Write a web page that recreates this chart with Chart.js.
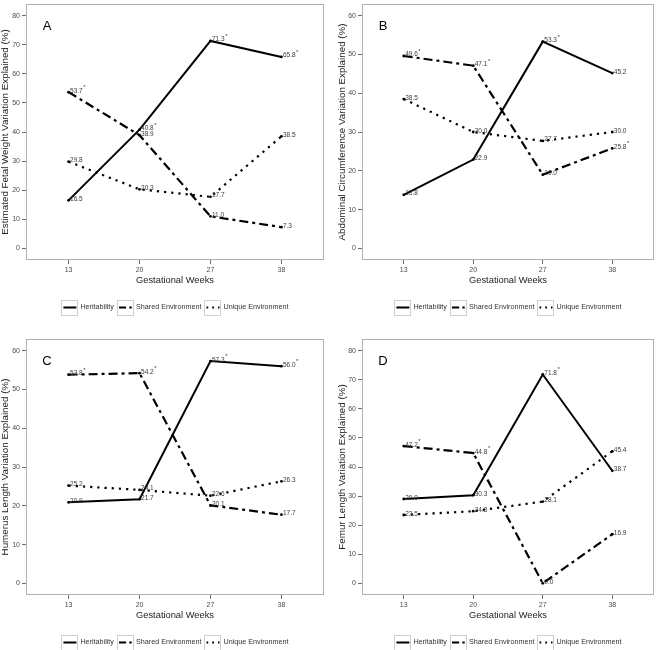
<!DOCTYPE html>
<html><head><meta charset="utf-8">
<script src="https://cdn.jsdelivr.net/npm/chart.js@4.4.0/dist/chart.umd.min.js"></script>
<style>
html,body{margin:0;padding:0;background:#fff;overflow:hidden;width:660px;height:650px;}
.p{position:absolute;width:330px;height:335px;}
canvas{display:block;}
</style></head><body>
<div class="p" style="left:0;top:0"><canvas id="cA" width="330" height="335"></canvas></div>
<div class="p" style="left:330px;top:0"><canvas id="cB" width="330" height="335"></canvas></div>
<div class="p" style="left:0;top:335px"><canvas id="cC" width="330" height="335"></canvas></div>
<div class="p" style="left:330px;top:335px"><canvas id="cD" width="330" height="335"></canvas></div>
<script>
// ---------- data ----------
const weeks = ['13', '20', '27', '38'];
const seriesNames = ['Heritability', 'Shared Environment', 'Unique Environment'];
const ticks80 = [0, 10, 20, 30, 40, 50, 60, 70, 80];
const ticks60 = [0, 10, 20, 30, 40, 50, 60];

// A: Estimated fetal weight
const efwHerit  = [16.5, 40.8, 71.3, 65.8];
const efwShared = [53.7, 38.9, 11.0, 7.3];
const efwUnique = [29.8, 20.3, 17.7, 38.5];
const efwHeritSig  = [false, true, true, true];
const efwSharedSig = [true, false, false, false];
const efwUniqueSig = [false, false, false, false];

// B: Abdominal circumference
const acHerit  = [13.8, 22.9, 53.3, 45.2];
const acShared = [49.6, 47.1, 19.0, 25.8];
const acUnique = [38.5, 30.0, 27.7, 30.0];
const acHeritSig  = [false, false, true, false];
const acSharedSig = [true, true, false, true];
const acUniqueSig = [false, false, false, false];

// C: Humerus length
const hlHerit  = [20.9, 21.7, 57.3, 56.0];
const hlShared = [53.8, 54.2, 20.1, 17.7];
const hlUnique = [25.2, 24.1, 22.6, 26.3];
const hlHeritSig  = [false, false, true, true];
const hlSharedSig = [true, true, false, false];
const hlUniqueSig = [false, false, false, false];

// D: Femur length
const flHerit  = [29.0, 30.3, 71.8, 38.7];
const flShared = [47.2, 44.8, 0.0, 16.9];
const flUnique = [23.5, 24.8, 28.1, 45.4];
const flHeritSig  = [false, false, true, false];
const flSharedSig = [true, true, false, false];
const flUniqueSig = [false, false, false, false];

// ---------- styles ----------
const FONT = "'Liberation Sans', Arial, sans-serif";
const lineStyles = [
  { dash: [], width: 2 },
  { dash: [9, 4, 3, 4], width: 2.2 },
  { dash: [2.2, 5], width: 2.2 }
];

const framePlugin = {
  id: 'frame',
  afterDraw(chart) {
    const { ctx, chartArea: a } = chart;
    ctx.save();
    ctx.strokeStyle = '#b0b0b0';
    ctx.lineWidth = 1;
    ctx.strokeRect(Math.round(a.left) + 0.5, Math.round(a.top) + 0.5,
      Math.round(a.right - a.left) - 1, Math.round(a.bottom - a.top) - 1);
    ctx.restore();
  }
};

const extrasPlugin = {
  id: 'extras',
  afterDatasetsDraw(chart) {
    const { ctx, chartArea: a } = chart;
    const cfg = chart.config.options.plugins.extras;
    ctx.save();
    // panel letter
    ctx.fillStyle = '#000';
    ctx.font = '13px ' + FONT;
    ctx.textAlign = 'center';
    ctx.textBaseline = 'middle';
    ctx.fillText(cfg.letter, a.left + 21, a.top + 22);
    // value labels
    chart.data.datasets.forEach((ds, di) => {
      const meta = chart.getDatasetMeta(di);
      meta.data.forEach((pt, i) => {
        const v = ds.data[i].y;
        const txt = v.toFixed(1);
        ctx.font = '6.5px ' + FONT;
        ctx.fillStyle = '#3a3a3a';
        ctx.textAlign = 'left';
        ctx.textBaseline = 'alphabetic';
        const tx = pt.x + 1.5;
        const ty = pt.y + 0.5;
        ctx.fillText(txt, tx, ty);
        if (ds.sig[i]) {
          const w = ctx.measureText(txt).width;
          ctx.font = '6px ' + FONT;
          ctx.fillText('*', tx + w + 0.5, ty - 3.5);
        }
      });
    });
    // legend
    ctx.font = '7.2px ' + FONT;
    ctx.textBaseline = 'middle';
    const boxW = 16, boxH = 15, gapText = 3, gapItem = 3;
    const widths = seriesNames.map(n => ctx.measureText(n).width);
    let total = 0;
    widths.forEach((w, i) => { total += boxW + gapText + w + (i < widths.length - 1 ? gapItem : 0); });
    let x = (a.left + a.right) / 2 - total / 2;
    const cy = 307;
    seriesNames.forEach((n, i) => {
      ctx.strokeStyle = '#cfcfcf';
      ctx.lineWidth = 1;
      ctx.setLineDash([]);
      ctx.strokeRect(Math.round(x) + 0.5, Math.round(cy - boxH / 2) + 0.5, boxW, boxH);
      ctx.strokeStyle = '#000';
      ctx.lineWidth = lineStyles[i].width;
      ctx.setLineDash(lineStyles[i].dash.map(d => d * 0.8));
      ctx.beginPath();
      ctx.moveTo(x + 2, cy + 0.5);
      ctx.lineTo(x + boxW - 1, cy + 0.5);
      ctx.stroke();
      ctx.setLineDash([]);
      ctx.fillStyle = '#333';
      ctx.textAlign = 'left';
      ctx.fillText(n, x + boxW + gapText, cy + 0.5);
      x += boxW + gapText + widths[i] + gapItem;
    });
    ctx.restore();
  }
};

function makeChart(id, letter, yTitle, yTicks, series, sigs, yLeft, titlePad) {
  const yMax = yTicks[yTicks.length - 1];
  const pad = yMax * 0.05;
  return new Chart(document.getElementById(id), {
    type: 'line',
    data: {
      datasets: series.map((vals, si) => ({
        label: seriesNames[si],
        data: weeks.map((w, i) => ({ x: i + 1, y: vals[i] })),
        sig: sigs[si],
        borderColor: '#000',
        backgroundColor: '#000',
        borderWidth: lineStyles[si].width,
        borderDash: lineStyles[si].dash,
        borderCapStyle: 'butt',
        tension: 0,
        pointRadius: 1.4,
        pointBorderWidth: 0,
        pointBackgroundColor: '#000',
        fill: false
      }))
    },
    options: {
      responsive: false,
      animation: false,
      devicePixelRatio: 1,
      layout: { padding: { top: 1, right: 6, left: 0, bottom: 0 } },
      plugins: {
        legend: { display: false },
        tooltip: { enabled: false },
        extras: { letter: letter }
      },
      scales: {
        x: {
          type: 'linear',
          min: 0.4, max: 4.6,
          afterBuildTicks: s => { s.ticks = weeks.map((w, i) => ({ value: i + 1 })); },
          afterFit: s => { s.height = 75; s.paddingLeft = 0; s.paddingRight = 0; },
          ticks: {
            callback: v => weeks[Math.round(v) - 1],
            font: { family: FONT, size: 7 },
            color: '#4d4d4d',
            padding: 2,
            maxRotation: 0, autoSkip: false
          },
          grid: { drawOnChartArea: false, drawTicks: true, tickLength: 4, color: '#6e6e6e' },
          border: { display: false },
          title: {
            display: true, text: 'Gestational Weeks',
            font: { family: FONT, size: 9.3 }, color: '#222',
            padding: { top: 0, bottom: 48.5 }
          }
        },
        y: {
          type: 'linear',
          min: -pad, max: yMax + pad,
          afterBuildTicks: s => { s.ticks = yTicks.map(v => ({ value: v })); },
          afterFit: s => { s.width = yLeft; s.paddingTop = 0; s.paddingBottom = 0; },
          ticks: {
            font: { family: FONT, size: 7 },
            color: '#4d4d4d',
            padding: 2,
            autoSkip: false
          },
          grid: { drawOnChartArea: false, drawTicks: true, tickLength: 4, color: '#6e6e6e' },
          border: { display: false },
          title: {
            display: true, text: yTitle,
            font: { family: FONT, size: 9.8 }, color: '#222',
            padding: { top: titlePad, bottom: 0 }
          }
        }
      }
    },
    plugins: [framePlugin, extrasPlugin]
  });
}

makeChart('cA', 'A', 'Estimated Fetal Weight Variation Explained (%)', ticks80,
  [efwHerit, efwShared, efwUnique], [efwHeritSig, efwSharedSig, efwUniqueSig], 26, -0.9);
makeChart('cB', 'B', 'Abdominal Circumference Variation Explained (%)', ticks60,
  [acHerit, acShared, acUnique], [acHeritSig, acSharedSig, acUniqueSig], 32, 6);
makeChart('cC', 'C', 'Humerus Length Variation Explained (%)', ticks60,
  [hlHerit, hlShared, hlUnique], [hlHeritSig, hlSharedSig, hlUniqueSig], 26, -0.9);
makeChart('cD', 'D', 'Femur Length Variation Explained (%)', ticks80,
  [flHerit, flShared, flUnique], [flHeritSig, flSharedSig, flUniqueSig], 32, 6);
</script>
</body></html>
